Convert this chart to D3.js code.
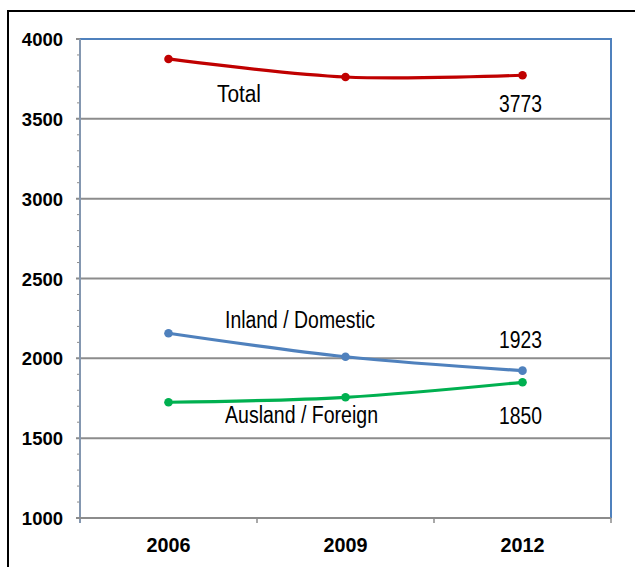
<!DOCTYPE html>
<html><head><meta charset="utf-8">
<script src="https://cdn.jsdelivr.net/npm/d3@7"></script>
<style>body{margin:0;background:#fff;}svg{display:block;}</style>
</head><body>
<script>
const years = ["2006", "2009", "2012"];
const totalValues = [3875, 3762, 3773];
const domesticValues = [2157, 2010, 1923];
const foreignValues = [1725, 1756, 1850];
const yTicks = [1000, 1500, 2000, 2500, 3000, 3500, 4000];
const seriesNames = ["Total", "Inland / Domestic", "Ausland / Foreign"];
const endLabels = ["3773", "1923", "1850"];

const W = 635, H = 567;
const pL = 80, pR = 611, pT = 39, pB = 518;
const svg = d3.select("body").append("svg").attr("width", W).attr("height", H);

svg.append("rect").attr("x", 8).attr("y", 11).attr("width", 640).attr("height", 570)
  .attr("fill", "none").attr("stroke", "#000").attr("stroke-width", 2);

const x = d3.scaleBand().domain(years).range([pL, pR]);
const y = d3.scaleLinear().domain([1000, 4000]).range([pB, pT]);

// gridlines
svg.append("g").selectAll("line").data(yTicks.filter(d => d > 1000 && d < 4000)).join("line")
  .attr("x1", pL - 4).attr("x2", pR).attr("y1", d => y(d)).attr("y2", d => y(d))
  .attr("stroke", "#8c8c8c").attr("stroke-width", 2);

// minor ticks
const minor = d3.range(1100, 4000, 100).filter(d => d % 500 !== 0);
svg.append("g").selectAll("line").data(minor).join("line")
  .attr("x1", pL - 3).attr("x2", pL).attr("y1", d => y(d)).attr("y2", d => y(d))
  .attr("stroke", "#8c8c8c").attr("stroke-width", 1);

// top & right border (blue)
svg.append("path").attr("d", `M${pL},${y(4000)}H${pR}V${pB}`)
  .attr("fill", "none").attr("stroke", "#4f81bd").attr("stroke-width", 2);
svg.append("line").attr("x1", pL - 4).attr("x2", pL).attr("y1", y(4000)).attr("y2", y(4000))
  .attr("stroke", "#8c8c8c").attr("stroke-width", 2);

// y axis line
svg.append("line").attr("x1", pL).attr("x2", pL).attr("y1", y(4000)).attr("y2", pB + 5)
  .attr("stroke", "#8497b0").attr("stroke-width", 2);

// x axis
svg.append("line").attr("x1", pL - 4).attr("x2", pR).attr("y1", pB).attr("y2", pB)
  .attr("stroke", "#8c8c8c").attr("stroke-width", 2);
const bounds = years.map(d => x(d)).slice(1).concat([pR]);
svg.append("g").selectAll("line").data(bounds).join("line")
  .attr("x1", d => d).attr("x2", d => d).attr("y1", pB).attr("y2", pB + 5)
  .attr("stroke", "#8c8c8c").attr("stroke-width", 1.5);

// y labels
svg.append("g").selectAll("text").data(yTicks).join("text")
  .attr("x", 63).attr("y", d => y(d) + 7).attr("text-anchor", "end")
  .attr("font-family", "Liberation Sans, Arial, sans-serif").attr("font-weight", "bold")
  .attr("font-size", 18.5).attr("fill", "#000").text(d => d);

// x labels
svg.append("g").selectAll("text").data(years).join("text")
  .attr("x", d => x(d) + x.bandwidth() / 2).attr("y", 552).attr("text-anchor", "middle")
  .attr("font-family", "Liberation Sans, Arial, sans-serif").attr("font-weight", "bold")
  .attr("font-size", 20.5).attr("textLength", 44).attr("lengthAdjust", "spacingAndGlyphs")
  .attr("fill", "#000").text(d => d);

const series = [
  {values: totalValues, color: "#c00000"},
  {values: domesticValues, color: "#4f81bd"},
  {values: foreignValues, color: "#00b050"}
];
const line = d3.line().x((d, i) => x(years[i]) + x.bandwidth() / 2).y(d => y(d))
  .curve(d3.curveCatmullRom.alpha(0.5));
series.forEach(s => {
  svg.append("path").attr("d", line(s.values)).attr("fill", "none")
    .attr("stroke", s.color).attr("stroke-width", 3.2);
  svg.append("g").selectAll("circle").data(s.values).join("circle")
    .attr("cx", (d, i) => x(years[i]) + x.bandwidth() / 2).attr("cy", d => y(d))
    .attr("r", 4.3).attr("fill", s.color);
});

const labels = [
  {t: seriesNames[0], x: 217, y: 102, w: 44},
  {t: seriesNames[1], x: 225, y: 328, w: 150},
  {t: seriesNames[2], x: 225, y: 423, w: 153},
  {t: endLabels[0], x: 499, y: 112, w: 43},
  {t: endLabels[1], x: 499, y: 348, w: 43},
  {t: endLabels[2], x: 499, y: 424, w: 43}
];
svg.append("g").selectAll("text").data(labels).join("text")
  .attr("x", d => d.x).attr("y", d => d.y)
  .attr("font-family", "Liberation Sans, Arial, sans-serif").attr("font-size", 23)
  .attr("textLength", d => d.w).attr("lengthAdjust", "spacingAndGlyphs")
  .attr("fill", "#000").text(d => d.t);
</script>
</body></html>
